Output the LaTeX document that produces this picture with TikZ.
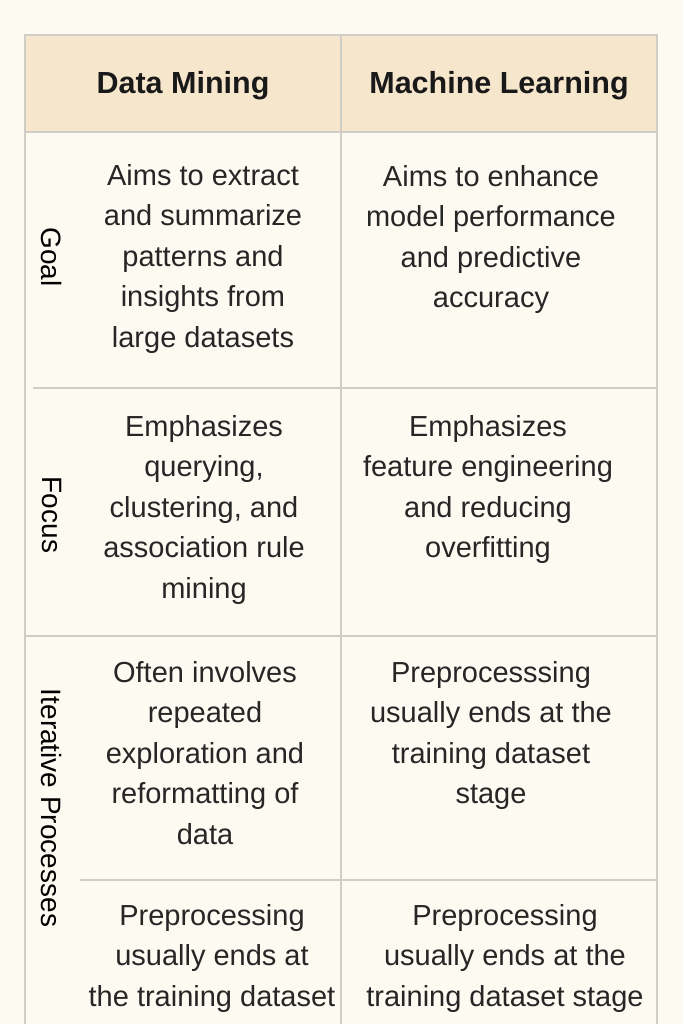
\documentclass[tikz,border=0pt]{standalone}
\usepackage{fontspec}
\setmainfont{Liberation Sans}
\definecolor{paper}{HTML}{FDFBF1}
\definecolor{peach}{HTML}{F6E6CC}
\definecolor{rule}{HTML}{CFCDC6}
\tikzset{cell/.style={anchor=north,align=center,inner sep=0pt,font=\fontsize{29}{40.5}\selectfont,text=black!85}}
\tikzset{hdr/.style={inner sep=0pt,font=\fontsize{30.5}{34}\selectfont\bfseries,text=black!90}}
\tikzset{rowlabel/.style={rotate=-90,inner sep=0pt,font=\fontsize{28}{30}\selectfont}}
\tikzset{grid/.style={draw=rule,line width=1.2pt}}

\begin{document}
\begin{tikzpicture}[x=1pt,y=-1pt]
        % page and header band
        \fill[paper] (0,0) rectangle (683,1024);
        \useasboundingbox (0,0) rectangle (683,1024);
        \fill[peach] (25,35) rectangle (657,132);
        % grid lines
        \draw[grid] (25,1024) -- (25,35) -- (657,35) -- (657,1024);
        \draw[grid] (341,35) -- (341,1024);
        \draw[grid] (25,132) -- (657,132);
        \draw[grid] (33,388) -- (657,388);
        \draw[grid] (25,636) -- (657,636);
        \draw[grid] (80,880) -- (657,880);
        % header
        \node[hdr] (hdm) at (183,86) {Data Mining};
        \node[hdr] (hml) at (499,86) {Machine Learning};
        % row labels
        \node[rowlabel] (lgoal) at (52,257) {Goal};
        \node[rowlabel] (lfocus) at (52,515) {Focus};
        \node[rowlabel] (liter) at (52,808) {Iterative Processes};
        % goal
        \node[cell] (gdm) at (203,164) {Aims to extract\\and summarize\\patterns and\\insights from\\large datasets};
        \node[cell] (gml) at (491,165) {Aims to enhance\\model performance\\and predictive\\accuracy};
        % focus
        \node[cell] (fdm) at (204,415) {Emphasizes\\querying,\\clustering, and\\association rule\\mining};
        \node[cell] (fml) at (488,415) {Emphasizes\\feature engineering\\and reducing\\overfitting};
        % iterative processes
        \node[cell] (idm) at (205,661) {Often involves\\repeated\\exploration and\\reformatting of\\data};
        \node[cell] (iml) at (491,661) {Preprocesssing\\usually ends at the\\training dataset\\stage};
        \node[cell] (jdm) at (212,904) {Preprocessing\\usually ends at\\the training dataset};
        \node[cell] (jml) at (505,904) {Preprocessing\\usually ends at the\\training dataset stage};
\end{tikzpicture}
\end{document}
